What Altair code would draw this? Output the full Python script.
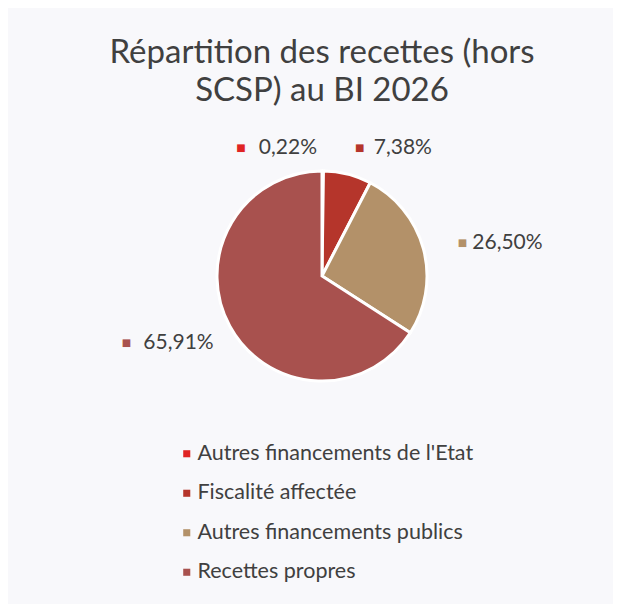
import altair as alt
import pandas as pd

# ---- data ----
categories = [
    "Autres financements de l'Etat",
    "Fiscalité affectée",
    "Autres financements publics",
    "Recettes propres",
]
shares = [0.22, 7.38, 26.50, 65.91]
labels = ["0,22%", "7,38%", "26,50%", "65,91%"]

# ---- styles ----
colors = ["#e02424", "#b5352b", "#b39169", "#a8514e"]
# (text dx, text dy, marker dx) relative to the polar anchor of each label
label_offsets = [(-35, 7, -82), (48, 3, 5), (55, 2, 10), (-25, 2, -77)]
TEXT_COLOR = "#404040"
FONT = "Lato"

df = pd.DataFrame(
    {"categorie": categories, "part": shares, "etiquette": labels, "rang": list(range(len(categories)))}
)

color_scale = alt.Scale(domain=categories, range=colors)

base = alt.Chart(df).encode(
    theta=alt.Theta("part:Q", stack=True),
    order=alt.Order("rang:Q", sort="ascending"),
)

pie = base.mark_arc(outerRadius=105, stroke="#ffffff", strokeWidth=3).encode(
    color=alt.Color(
        "categorie:N",
        scale=color_scale,
        sort=categories,
        legend=alt.Legend(
            title=None,
            orient="none",
            legendX=128,
            legendY=315,
            symbolType="square",
            symbolSize=50,
            symbolStrokeWidth=0,
            labelFont=FONT,
            labelFontSize=21.5,
            labelColor=TEXT_COLOR,
            labelOffset=0,
            rowPadding=16.5,
            labelLimit=400,
        ),
    )
)

layers = [pie]
for i, (tdx, tdy, mdx) in enumerate(label_offsets):
    txt = (
        base.transform_calculate(t=f"datum.rang === {i} ? datum.etiquette : ''")
        .mark_text(radius=135, dx=tdx, dy=tdy, font=FONT, fontSize=21, color=TEXT_COLOR, baseline="middle")
        .encode(text="t:N")
    )
    mark = (
        base.transform_calculate(t=f"datum.rang === {i} ? '■' : ''")
        .mark_text(radius=135, dx=mdx, dy=tdy, font="DejaVu Sans", fontSize=10, baseline="middle")
        .encode(text="t:N", color=alt.Color("categorie:N", scale=color_scale, legend=None))
    )
    layers += [txt, mark]

chart = (
    alt.layer(*layers)
    .properties(
        width=548,
        height=296,
        title=alt.TitleParams(
            text=["Répartition des recettes (hors", "SCSP) au BI 2026"],
            font=FONT,
            fontSize=33,
            fontWeight="normal",
            color=TEXT_COLOR,
            anchor="middle",
            lineHeight=38,
            offset=20,
        ),
        autosize=alt.AutoSizeParams(type="none"),
        padding={"left": 40, "top": 120, "right": 17, "bottom": 180},
        background="#f8f8fb",
    )
    .configure_view(stroke=None)
)

chart.save("out.html", embed_options={"renderer": "svg", "actions": False})
